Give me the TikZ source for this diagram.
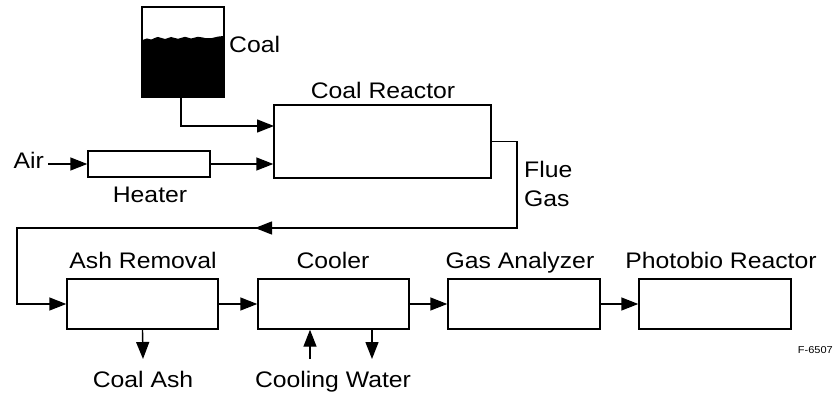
\documentclass[tikz,border=0pt]{standalone}
\usepackage{fontspec}
\setmainfont{Liberation Sans}[FakeStretch=1.1]
\usetikzlibrary{arrows.meta}
\begin{document}
\begin{tikzpicture}[x=1pt,y=-1pt,
  lw/.style={line width=1.4pt},
  box/.style={draw,lw,rectangle,inner sep=0pt,fill=white},
  arr/.style={lw,-{Triangle[length=17pt,width=13pt]}},
  lbl/.style={font=\fontsize{22.5}{26}\selectfont,inner sep=0pt,anchor=base},
  small/.style={font=\fontsize{10}{12}\selectfont,inner sep=0pt,anchor=base east}]
\useasboundingbox (0,0) rectangle (833,393);
% hopper
\node[box,minimum width=82pt,minimum height=90pt] (hopper) at (183,52) {};
\fill (142,97) -- plot[smooth] coordinates {(142,40.3) (147,38.5) (151,39.5) (158,37) (165,39) (171,37) (178,38.8) (185,36.8) (191,38.5) (198,36.8) (205,38) (211,38.2) (218,36.6) (224,36)} -- (224,97) -- cycle;
\draw[lw] (hopper.north west) rectangle (hopper.south east);
\node[lbl,anchor=base west] (coal) at (229,53) {Coal};
% reactor
\node[box,minimum width=217pt,minimum height=73pt] (reactor) at (382.5,141.5) {};
\node[lbl] (reactorl) at (383,99) {Coal Reactor};
% heater
\node[box,minimum width=122pt,minimum height=26pt] (heater) at (149,164) {};
\node[lbl] (heaterl) at (150,202) {Heater};
\node[lbl,anchor=base east] (air) at (44,169) {Air};
% lower boxes
\node[box,minimum width=151pt,minimum height=50pt] (ash) at (142.5,304) {};
\node[box,minimum width=151pt,minimum height=50pt] (cooler) at (333.5,304) {};
\node[box,minimum width=152pt,minimum height=50pt] (gas) at (524,304) {};
\node[box,minimum width=152pt,minimum height=50pt] (photo) at (715,304) {};
\node[lbl] (ashl) at (143,268) {Ash Removal};
\node[lbl] (coolerl) at (333,268) {Cooler};
\node[lbl] (gasl) at (520,268) {Gas Analyzer};
\node[lbl] (photol) at (721,268) {Photobio Reactor};
\node[lbl,anchor=base west] (flue) at (524,178) {Flue};
\node[lbl,anchor=base west] (gasflue) at (524,206) {Gas};
\node[lbl] (coalash) at (143,387) {Coal Ash};
\node[lbl] (cw) at (333,387) {Cooling Water};
\node[small] (fig) at (833,353) {F-6507};
% connectors
\coordinate (hop1) at (181,97);
\coordinate (rin1) at (274,126);
\draw[arr] (hop1) |- (rin1);
\draw[arr] ([xshift=4pt]air.east |- heater.west) -- (heater.west);
\draw[arr] (heater.east) -- (reactor.west |- heater.east);
\coordinate (fg2) at (517,228);
\coordinate (fg3) at (17,228);
\coordinate (fgm) at (255,228);
\draw[arr] (reactor.east) -| (fg2) -- (fg3) |- (ash.west);
\draw[arr] (fg2) -- (fgm);
\draw[arr] (ash.east) -- (cooler.west);
\draw[arr] (cooler.east) -- (gas.west);
\draw[arr] (gas.east) -- (photo.west);
\coordinate (ashout) at (143,359);
\draw[arr] (ash.south) -- (ashout);
\coordinate (cwin) at (310,359);
\coordinate (cwout) at (372,359);
\draw[arr] (cwin) -- (cwin |- cooler.south);
\draw[arr] (cwout |- cooler.south) -- (cwout);
\end{tikzpicture}
\end{document}
